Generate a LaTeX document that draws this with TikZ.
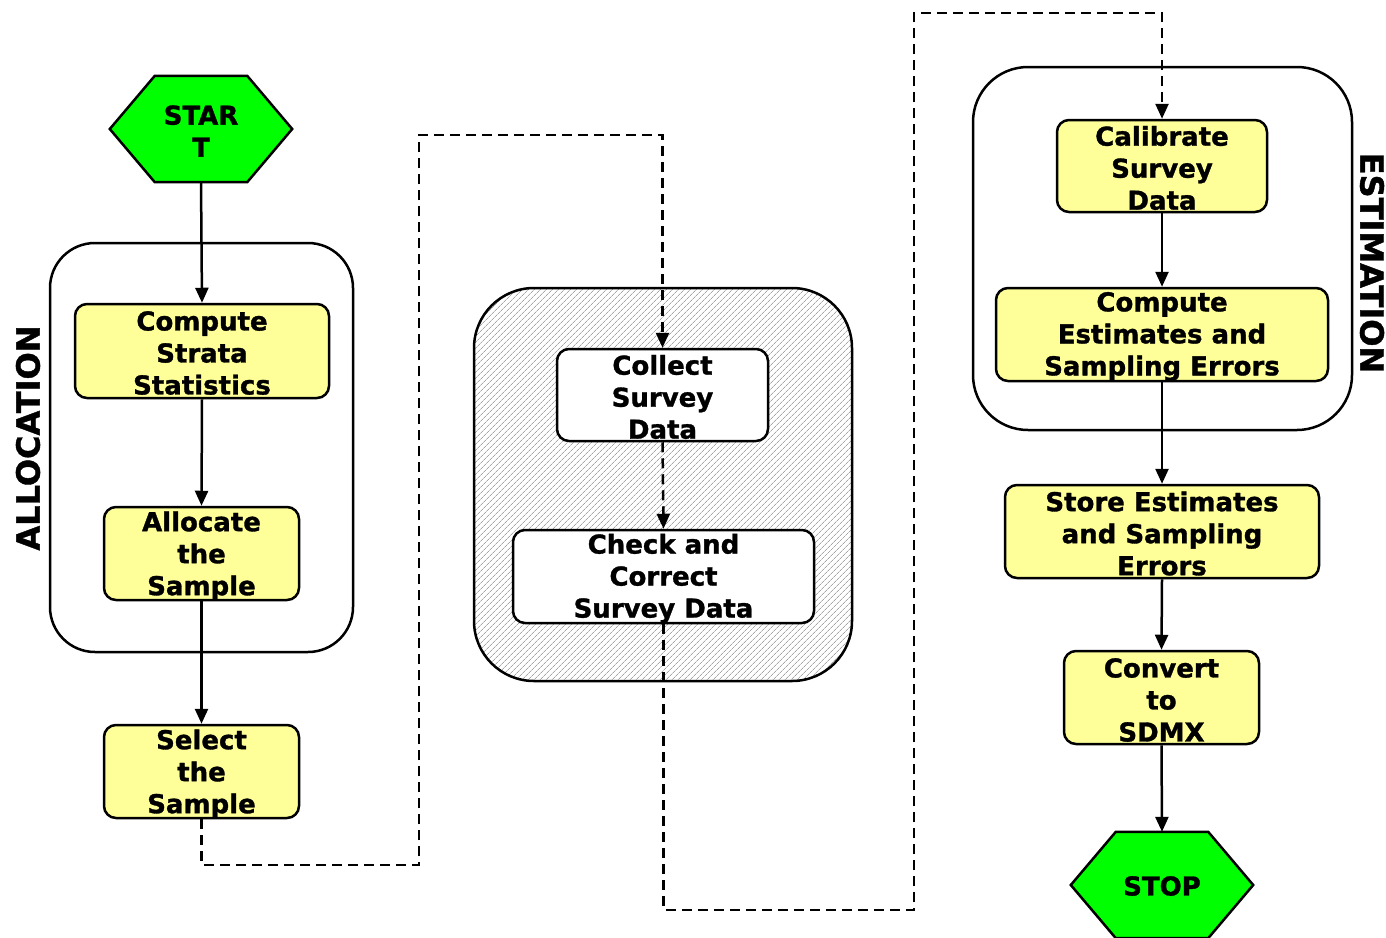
\documentclass[tikz,border=0pt]{standalone}
\usepackage{fontspec}
\setmainfont[BoldFeatures={FakeBold=1.2}]{DejaVu Sans}
\usetikzlibrary{arrows.meta,patterns.meta,calc}

\definecolor{boxyellow}{HTML}{FFFF99}
\definecolor{hexgreen}{HTML}{00FF00}

\tikzset{
  stepbox/.style={draw, line width=2.5pt, rounded corners=12pt, inner sep=0pt},
  yelbox/.style={stepbox, fill=boxyellow},
  whtbox/.style={stepbox, fill=white},
  txt/.style={font=\bfseries\fontsize{26}{32}\selectfont, align=center, inner sep=0pt},
  sidelabel/.style={font=\bfseries\fontsize{32}{38}\selectfont, inner sep=0pt},
  groupbox/.style={draw, line width=2.5pt, inner sep=0pt},
  hexframe/.style={inner sep=0pt, minimum width=182pt, minimum height=106pt},
  hexa/.style={draw, line width=2.5pt, fill=hexgreen, line join=miter},
  flow/.style={line width=2.5pt, -{Triangle[length=15pt,width=13pt]}},
  jump/.style={flow, dash pattern=on 10pt off 6pt},
}

\begin{document}
\begin{tikzpicture}[x=1pt, y=-1pt]
  \clip (0,0) rectangle (1386,937);
  \fill[white] (0,0) rectangle (1386,937);

  % ---- group frames ----
  \node[groupbox, rounded corners=45pt, minimum width=303pt, minimum height=409pt] (galloc) at (201.5,447.5) {};
  \node[groupbox, rounded corners=60pt, minimum width=378pt, minimum height=393pt,
        pattern={Lines[angle=45, distance=4pt, line width=0.8pt]}, pattern color=gray!70] (gcollect) at (663,484.5) {};
  \node[groupbox, rounded corners=55pt, minimum width=379pt, minimum height=363pt] (gestim) at (1162.5,248.5) {};

  \node[sidelabel, rotate=90] (lalloc) at (28,438) {ALLOCATION};
  \node[sidelabel, rotate=-90] (lestim) at (1372,263) {ESTIMATION};

  % ---- start / stop hexagons ----
  \node[hexframe] (start) at (201,129) {};
  \filldraw[hexa] (start.west) -- ($(start.north west)+(45,0)$) -- ($(start.north east)+(-45,0)$)
    -- (start.east) -- ($(start.south east)+(-45,0)$) -- ($(start.south west)+(45,0)$) -- cycle;
  \node[txt] (starttxt) at (201,131) {STAR\\T};

  \node[hexframe] (stop) at (1162,885) {};
  \filldraw[hexa] (stop.west) -- ($(stop.north west)+(45,0)$) -- ($(stop.north east)+(-45,0)$)
    -- (stop.east) -- ($(stop.south east)+(-45,0)$) -- ($(stop.south west)+(45,0)$) -- cycle;
  \node[txt] (stoptxt) at (1162,886) {STOP};

  % ---- process boxes ----
  \node[yelbox, minimum width=254pt, minimum height=94pt] (cstat) at (202,351) {};
  \node[yelbox, minimum width=195pt, minimum height=93pt] (alloc) at (201.5,553.5) {};
  \node[yelbox, minimum width=195pt, minimum height=93pt] (sel) at (201.5,771.5) {};

  \node[whtbox, minimum width=211pt, minimum height=92pt] (col) at (662.5,395) {};
  \node[whtbox, minimum width=301pt, minimum height=93pt] (chk) at (663.5,576.5) {};

  \node[yelbox, minimum width=210pt, minimum height=92pt] (cal) at (1162,166) {};
  \node[yelbox, minimum width=332pt, minimum height=93pt] (cest) at (1162,334.5) {};
  \node[yelbox, minimum width=314pt, minimum height=93pt] (store) at (1162,531.5) {};
  \node[yelbox, minimum width=195pt, minimum height=93pt] (conv) at (1161.5,697.5) {};

  % ---- connectors ----
  \draw[flow] (start.south) -- (cstat.north);
  \draw[flow] (cstat.south) -- (alloc.north);
  \draw[flow] (alloc.south) -- (sel.north);

  \coordinate (j1) at (419,865);
  \coordinate (j2) at (419,135);
  \draw[jump] (sel.south) |- (j1) -- (j2) -| (col.north);
  \draw[jump] (col.south) -- (chk.north);

  \coordinate (j3) at (914,910);
  \coordinate (j4) at (914,13);
  \draw[jump] (chk.south) |- (j3) -- (j4) -| (cal.north);

  \draw[flow] (cal.south) -- (cest.north);
  \draw[flow] (cest.south) -- (store.north);
  \draw[flow] (store.south) -- (conv.north);
  \draw[flow] (conv.south) -- (stop.north);

  % ---- box texts ----
  \node[txt] (cstattxt) at (202,353) {Compute\\Strata\\Statistics};
  \node[txt] (alloctxt) at (201.5,556) {Allocate\\the\\Sample};
  \node[txt] (seltxt) at (201.5,774) {Select\\the\\Sample};
  \node[txt] (coltxt) at (662.5,397) {Collect\\Survey\\Data};
  \node[txt] (chktxt) at (663.5,578.5) {Check and\\Correct\\Survey Data};
  \node[txt] (caltxt) at (1162,168) {Calibrate\\Survey\\Data};
  \node[txt] (cesttxt) at (1162,336.5) {Compute\\Estimates and\\Sampling Errors};
  \node[txt] (storetxt) at (1162,533.5) {Store Estimates\\and Sampling\\Errors};
  \node[txt] (convtxt) at (1161.5,700) {Convert\\to\\SDMX};
\end{tikzpicture}
\end{document}
